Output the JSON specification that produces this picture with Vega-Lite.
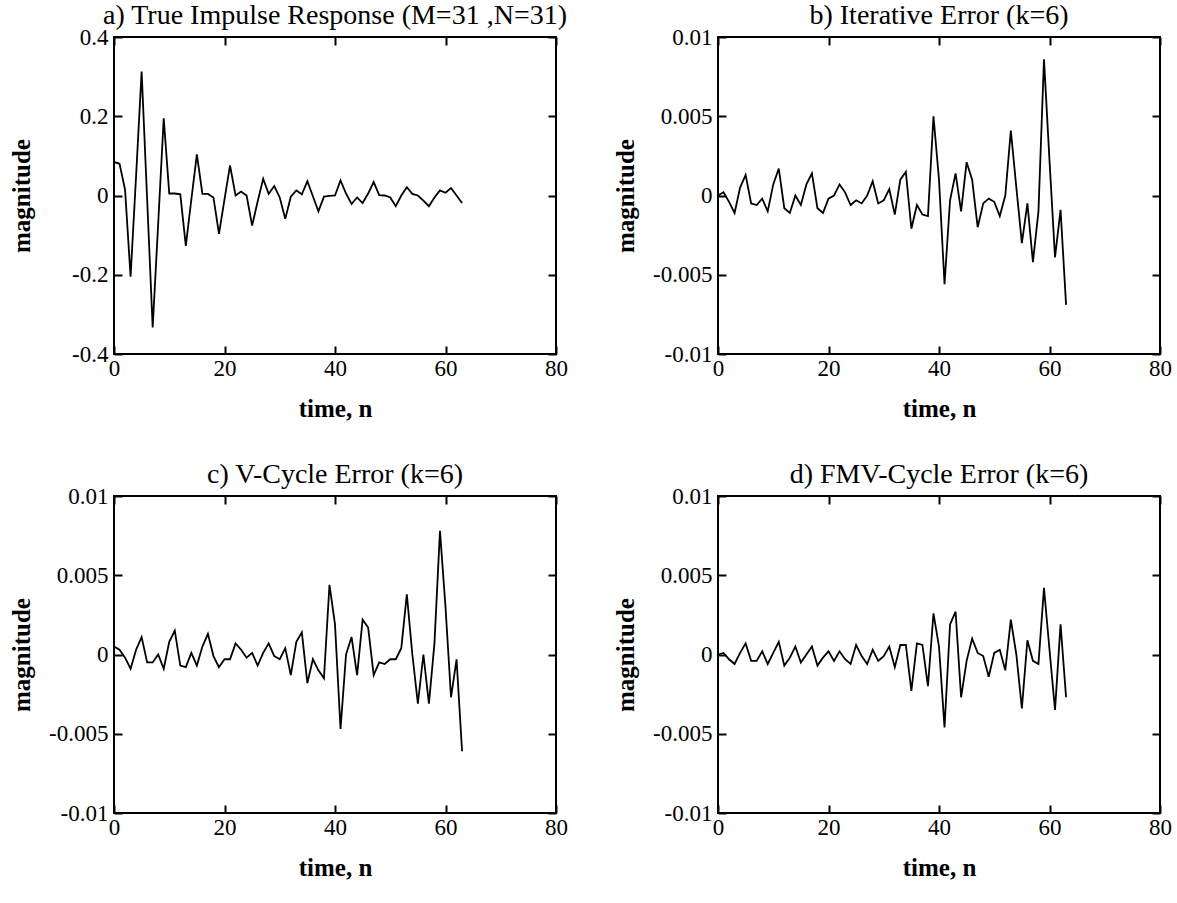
{
"$schema": "https://vega.github.io/schema/vega-lite/v6.json",
"padding": {"left": 8, "top": 1, "right": 0, "bottom": 0},
"background": "white",
"datasets": {
"a": [{"n":0,"v":0.085},{"n":1,"v":0.08},{"n":2,"v":0.015},{"n":3,"v":-0.205},{"n":4,"v":0.05},{"n":5,"v":0.313},{"n":6,"v":-0.01},{"n":7,"v":-0.333},{"n":8,"v":-0.07},{"n":9,"v":0.195},{"n":10,"v":0.005},{"n":11,"v":0.005},{"n":12,"v":0.003},{"n":13,"v":-0.127},{"n":14,"v":-0.01},{"n":15,"v":0.104},{"n":16,"v":0.004},{"n":17,"v":0.004},{"n":18,"v":-0.005},{"n":19,"v":-0.097},{"n":20,"v":-0.01},{"n":21,"v":0.076},{"n":22,"v":0.0},{"n":23,"v":0.01},{"n":24,"v":0.0},{"n":25,"v":-0.076},{"n":26,"v":-0.015},{"n":27,"v":0.042},{"n":28,"v":0.004},{"n":29,"v":0.024},{"n":30,"v":-0.005},{"n":31,"v":-0.059},{"n":32,"v":-0.003},{"n":33,"v":0.013},{"n":34,"v":0.003},{"n":35,"v":0.036},{"n":36,"v":-0.002},{"n":37,"v":-0.04},{"n":38,"v":-0.003},{"n":39,"v":-0.001},{"n":40,"v":0.0},{"n":41,"v":0.038},{"n":42,"v":0.005},{"n":43,"v":-0.021},{"n":44,"v":-0.005},{"n":45,"v":-0.019},{"n":46,"v":0.005},{"n":47,"v":0.034},{"n":48,"v":0.001},{"n":49,"v":0.0},{"n":50,"v":-0.005},{"n":51,"v":-0.027},{"n":52,"v":0.0},{"n":53,"v":0.021},{"n":54,"v":0.004},{"n":55,"v":0.0},{"n":56,"v":-0.013},{"n":57,"v":-0.027},{"n":58,"v":-0.005},{"n":59,"v":0.013},{"n":60,"v":0.007},{"n":61,"v":0.019},{"n":62,"v":0.0},{"n":63,"v":-0.019}],
"b": [{"n":0,"v":0.0},{"n":1,"v":0.0002},{"n":2,"v":-0.0004},{"n":3,"v":-0.0011},{"n":4,"v":0.0005},{"n":5,"v":0.0013},{"n":6,"v":-0.0005},{"n":7,"v":-0.0006},{"n":8,"v":-0.0002},{"n":9,"v":-0.001},{"n":10,"v":0.0007},{"n":11,"v":0.0017},{"n":12,"v":-0.0008},{"n":13,"v":-0.0011},{"n":14,"v":0.0},{"n":15,"v":-0.0006},{"n":16,"v":0.0007},{"n":17,"v":0.0014},{"n":18,"v":-0.0008},{"n":19,"v":-0.0011},{"n":20,"v":-0.0002},{"n":21,"v":0.0},{"n":22,"v":0.0007},{"n":23,"v":0.0002},{"n":24,"v":-0.0006},{"n":25,"v":-0.0003},{"n":26,"v":-0.0005},{"n":27,"v":0.0},{"n":28,"v":0.0009},{"n":29,"v":-0.0005},{"n":30,"v":-0.0003},{"n":31,"v":0.0004},{"n":32,"v":-0.0012},{"n":33,"v":0.001},{"n":34,"v":0.0015},{"n":35,"v":-0.0021},{"n":36,"v":-0.0006},{"n":37,"v":-0.0012},{"n":38,"v":-0.0013},{"n":39,"v":0.005},{"n":40,"v":0.001},{"n":41,"v":-0.0056},{"n":42,"v":-0.0003},{"n":43,"v":0.0014},{"n":44,"v":-0.001},{"n":45,"v":0.0021},{"n":46,"v":0.001},{"n":47,"v":-0.002},{"n":48,"v":-0.0005},{"n":49,"v":-0.0002},{"n":50,"v":-0.0004},{"n":51,"v":-0.0013},{"n":52,"v":0.0},{"n":53,"v":0.0041},{"n":54,"v":0.0005},{"n":55,"v":-0.003},{"n":56,"v":-0.0005},{"n":57,"v":-0.0042},{"n":58,"v":-0.001},{"n":59,"v":0.0086},{"n":60,"v":0.0022},{"n":61,"v":-0.0039},{"n":62,"v":-0.0009},{"n":63,"v":-0.0069}],
"c": [{"n":0,"v":0.0005},{"n":1,"v":0.0003},{"n":2,"v":-0.0002},{"n":3,"v":-0.0009},{"n":4,"v":0.0003},{"n":5,"v":0.0011},{"n":6,"v":-0.0005},{"n":7,"v":-0.0005},{"n":8,"v":0.0},{"n":9,"v":-0.0009},{"n":10,"v":0.0008},{"n":11,"v":0.0015},{"n":12,"v":-0.0007},{"n":13,"v":-0.0008},{"n":14,"v":0.0001},{"n":15,"v":-0.0007},{"n":16,"v":0.0005},{"n":17,"v":0.0013},{"n":18,"v":-0.0001},{"n":19,"v":-0.0008},{"n":20,"v":-0.0003},{"n":21,"v":-0.0003},{"n":22,"v":0.0007},{"n":23,"v":0.0003},{"n":24,"v":-0.0002},{"n":25,"v":0.0001},{"n":26,"v":-0.0007},{"n":27,"v":0.0001},{"n":28,"v":0.0007},{"n":29,"v":-0.0001},{"n":30,"v":-0.0003},{"n":31,"v":0.0004},{"n":32,"v":-0.0013},{"n":33,"v":0.0008},{"n":34,"v":0.0014},{"n":35,"v":-0.0018},{"n":36,"v":-0.0003},{"n":37,"v":-0.001},{"n":38,"v":-0.0015},{"n":39,"v":0.0044},{"n":40,"v":0.0019},{"n":41,"v":-0.0047},{"n":42,"v":0.0},{"n":43,"v":0.0011},{"n":44,"v":-0.0013},{"n":45,"v":0.0022},{"n":46,"v":0.0017},{"n":47,"v":-0.0013},{"n":48,"v":-0.0005},{"n":49,"v":-0.0006},{"n":50,"v":-0.0003},{"n":51,"v":-0.0003},{"n":52,"v":0.0004},{"n":53,"v":0.0038},{"n":54,"v":0.0},{"n":55,"v":-0.0031},{"n":56,"v":0.0},{"n":57,"v":-0.0031},{"n":58,"v":0.0007},{"n":59,"v":0.0078},{"n":60,"v":0.003},{"n":61,"v":-0.0027},{"n":62,"v":-0.0003},{"n":63,"v":-0.0061}],
"d": [{"n":0,"v":0.0},{"n":1,"v":0.0001},{"n":2,"v":-0.0003},{"n":3,"v":-0.0006},{"n":4,"v":0.0001},{"n":5,"v":0.0007},{"n":6,"v":-0.0004},{"n":7,"v":-0.0004},{"n":8,"v":0.0002},{"n":9,"v":-0.0006},{"n":10,"v":0.0001},{"n":11,"v":0.0008},{"n":12,"v":-0.0007},{"n":13,"v":-0.0002},{"n":14,"v":0.0005},{"n":15,"v":-0.0005},{"n":16,"v":0.0},{"n":17,"v":0.0005},{"n":18,"v":-0.0007},{"n":19,"v":-0.0002},{"n":20,"v":0.0002},{"n":21,"v":-0.0004},{"n":22,"v":0.0002},{"n":23,"v":-0.0003},{"n":24,"v":-0.0006},{"n":25,"v":0.0006},{"n":26,"v":-0.0001},{"n":27,"v":-0.0006},{"n":28,"v":0.0003},{"n":29,"v":-0.0004},{"n":30,"v":-0.0001},{"n":31,"v":0.0005},{"n":32,"v":-0.0008},{"n":33,"v":0.0006},{"n":34,"v":0.0006},{"n":35,"v":-0.0023},{"n":36,"v":0.0007},{"n":37,"v":0.0006},{"n":38,"v":-0.002},{"n":39,"v":0.0026},{"n":40,"v":0.0005},{"n":41,"v":-0.0046},{"n":42,"v":0.0019},{"n":43,"v":0.0027},{"n":44,"v":-0.0027},{"n":45,"v":-0.0004},{"n":46,"v":0.001},{"n":47,"v":0.0001},{"n":48,"v":-0.0001},{"n":49,"v":-0.0014},{"n":50,"v":0.0001},{"n":51,"v":0.0003},{"n":52,"v":-0.001},{"n":53,"v":0.0022},{"n":54,"v":0.0},{"n":55,"v":-0.0034},{"n":56,"v":0.0009},{"n":57,"v":-0.0004},{"n":58,"v":-0.0006},{"n":59,"v":0.0042},{"n":60,"v":0.0003},{"n":61,"v":-0.0035},{"n":62,"v":0.0019},{"n":63,"v":-0.0027}]
},
"columns": 2,
"bounds": "flush",
"spacing": {"row": 142, "column": 162},
"concat": [
{"width": 442, "height": 317, "title": "a) True Impulse Response (M=31 ,N=31)", "data": {"name": "a"},
 "layer": [
  {"mark": {"type": "line", "color": "black", "strokeWidth": 1.8},
   "encoding": {
    "x": {"field": "n", "type": "quantitative", "scale": {"domain": [0, 80], "nice": false}, "axis": {"values": [0, 20, 40, 60, 80], "title": "time, n", "ticks": true, "tickSize": 8, "tickColor": "black", "tickWidth": 2, "offset": -8, "labelPadding": 3, "minExtent": 38, "maxExtent": 38, "titlePadding": 12}},
    "y": {"field": "v", "type": "quantitative", "scale": {"domain": [-0.4, 0.4], "nice": false, "zero": false}, "axis": {"values": [-0.4, -0.2, 0, 0.2, 0.4], "title": "magnitude", "ticks": true, "tickSize": 8, "tickColor": "black", "tickWidth": 2, "offset": -8, "labelPadding": 6, "minExtent": 80, "maxExtent": 80, "titlePadding": 8, "labelExpr": "datum.value < 0 ? '-' + format(-datum.value, '~g') : format(datum.value, '~g')"}}
   }},
  {"mark": {"type": "line", "opacity": 0},
   "encoding": {
    "x": {"field": "n", "type": "quantitative", "axis": {"orient": "top", "ticks": true, "tickSize": 8, "tickColor": "black", "tickWidth": 2, "offset": -8, "values": [0, 20, 40, 60, 80], "labels": false, "title": null, "minExtent": 0, "maxExtent": 0}},
    "y": {"field": "v", "type": "quantitative", "axis": {"orient": "right", "ticks": true, "tickSize": 8, "tickColor": "black", "tickWidth": 2, "offset": -8, "values": [-0.4, -0.2, 0, 0.2, 0.4], "labels": false, "title": null, "minExtent": 0, "maxExtent": 0}}
   }}
 ],
 "resolve": {"axis": {"x": "independent", "y": "independent"}}
},
{"width": 442, "height": 317, "title": "b) Iterative Error (k=6)", "data": {"name": "b"},
 "layer": [
  {"mark": {"type": "line", "color": "black", "strokeWidth": 1.8},
   "encoding": {
    "x": {"field": "n", "type": "quantitative", "scale": {"domain": [0, 80], "nice": false}, "axis": {"values": [0, 20, 40, 60, 80], "title": "time, n", "ticks": true, "tickSize": 8, "tickColor": "black", "tickWidth": 2, "offset": -8, "labelPadding": 3, "minExtent": 38, "maxExtent": 38, "titlePadding": 12}},
    "y": {"field": "v", "type": "quantitative", "scale": {"domain": [-0.01, 0.01], "nice": false, "zero": false}, "axis": {"values": [-0.01, -0.005, 0, 0.005, 0.01], "title": "magnitude", "ticks": true, "tickSize": 8, "tickColor": "black", "tickWidth": 2, "offset": -8, "labelPadding": 6, "minExtent": 80, "maxExtent": 80, "titlePadding": 8, "labelExpr": "datum.value < 0 ? '-' + format(-datum.value, '~g') : format(datum.value, '~g')"}}
   }},
  {"mark": {"type": "line", "opacity": 0},
   "encoding": {
    "x": {"field": "n", "type": "quantitative", "axis": {"orient": "top", "ticks": true, "tickSize": 8, "tickColor": "black", "tickWidth": 2, "offset": -8, "values": [0, 20, 40, 60, 80], "labels": false, "title": null, "minExtent": 0, "maxExtent": 0}},
    "y": {"field": "v", "type": "quantitative", "axis": {"orient": "right", "ticks": true, "tickSize": 8, "tickColor": "black", "tickWidth": 2, "offset": -8, "values": [-0.01, -0.005, 0, 0.005, 0.01], "labels": false, "title": null, "minExtent": 0, "maxExtent": 0}}
   }}
 ],
 "resolve": {"axis": {"x": "independent", "y": "independent"}}
},
{"width": 442, "height": 317, "title": "c) V-Cycle Error (k=6)", "data": {"name": "c"},
 "layer": [
  {"mark": {"type": "line", "color": "black", "strokeWidth": 1.8},
   "encoding": {
    "x": {"field": "n", "type": "quantitative", "scale": {"domain": [0, 80], "nice": false}, "axis": {"values": [0, 20, 40, 60, 80], "title": "time, n", "ticks": true, "tickSize": 8, "tickColor": "black", "tickWidth": 2, "offset": -8, "labelPadding": 3, "minExtent": 38, "maxExtent": 38, "titlePadding": 12}},
    "y": {"field": "v", "type": "quantitative", "scale": {"domain": [-0.01, 0.01], "nice": false, "zero": false}, "axis": {"values": [-0.01, -0.005, 0, 0.005, 0.01], "title": "magnitude", "ticks": true, "tickSize": 8, "tickColor": "black", "tickWidth": 2, "offset": -8, "labelPadding": 6, "minExtent": 80, "maxExtent": 80, "titlePadding": 8, "labelExpr": "datum.value < 0 ? '-' + format(-datum.value, '~g') : format(datum.value, '~g')"}}
   }},
  {"mark": {"type": "line", "opacity": 0},
   "encoding": {
    "x": {"field": "n", "type": "quantitative", "axis": {"orient": "top", "ticks": true, "tickSize": 8, "tickColor": "black", "tickWidth": 2, "offset": -8, "values": [0, 20, 40, 60, 80], "labels": false, "title": null, "minExtent": 0, "maxExtent": 0}},
    "y": {"field": "v", "type": "quantitative", "axis": {"orient": "right", "ticks": true, "tickSize": 8, "tickColor": "black", "tickWidth": 2, "offset": -8, "values": [-0.01, -0.005, 0, 0.005, 0.01], "labels": false, "title": null, "minExtent": 0, "maxExtent": 0}}
   }}
 ],
 "resolve": {"axis": {"x": "independent", "y": "independent"}}
},
{"width": 442, "height": 317, "title": "d) FMV-Cycle Error (k=6)", "data": {"name": "d"},
 "layer": [
  {"mark": {"type": "line", "color": "black", "strokeWidth": 1.8},
   "encoding": {
    "x": {"field": "n", "type": "quantitative", "scale": {"domain": [0, 80], "nice": false}, "axis": {"values": [0, 20, 40, 60, 80], "title": "time, n", "ticks": true, "tickSize": 8, "tickColor": "black", "tickWidth": 2, "offset": -8, "labelPadding": 3, "minExtent": 38, "maxExtent": 38, "titlePadding": 12}},
    "y": {"field": "v", "type": "quantitative", "scale": {"domain": [-0.01, 0.01], "nice": false, "zero": false}, "axis": {"values": [-0.01, -0.005, 0, 0.005, 0.01], "title": "magnitude", "ticks": true, "tickSize": 8, "tickColor": "black", "tickWidth": 2, "offset": -8, "labelPadding": 6, "minExtent": 80, "maxExtent": 80, "titlePadding": 8, "labelExpr": "datum.value < 0 ? '-' + format(-datum.value, '~g') : format(datum.value, '~g')"}}
   }},
  {"mark": {"type": "line", "opacity": 0},
   "encoding": {
    "x": {"field": "n", "type": "quantitative", "axis": {"orient": "top", "ticks": true, "tickSize": 8, "tickColor": "black", "tickWidth": 2, "offset": -8, "values": [0, 20, 40, 60, 80], "labels": false, "title": null, "minExtent": 0, "maxExtent": 0}},
    "y": {"field": "v", "type": "quantitative", "axis": {"orient": "right", "ticks": true, "tickSize": 8, "tickColor": "black", "tickWidth": 2, "offset": -8, "values": [-0.01, -0.005, 0, 0.005, 0.01], "labels": false, "title": null, "minExtent": 0, "maxExtent": 0}}
   }}
 ],
 "resolve": {"axis": {"x": "independent", "y": "independent"}}
}
],
"config": {
 "view": {"stroke": "black", "strokeWidth": 2},
 "axis": {"domain": false, "grid": false, "labelFlush": false, "labelOverlap": false, "labelFont": "Liberation Serif", "labelFontSize": 23, "labelColor": "black", "titleFont": "Liberation Serif", "titleFontSize": 25, "titleFontWeight": "bold", "titleColor": "black"},
 "title": {"font": "Liberation Serif", "fontSize": 28, "fontWeight": "normal", "color": "black", "offset": -4}
}
}
